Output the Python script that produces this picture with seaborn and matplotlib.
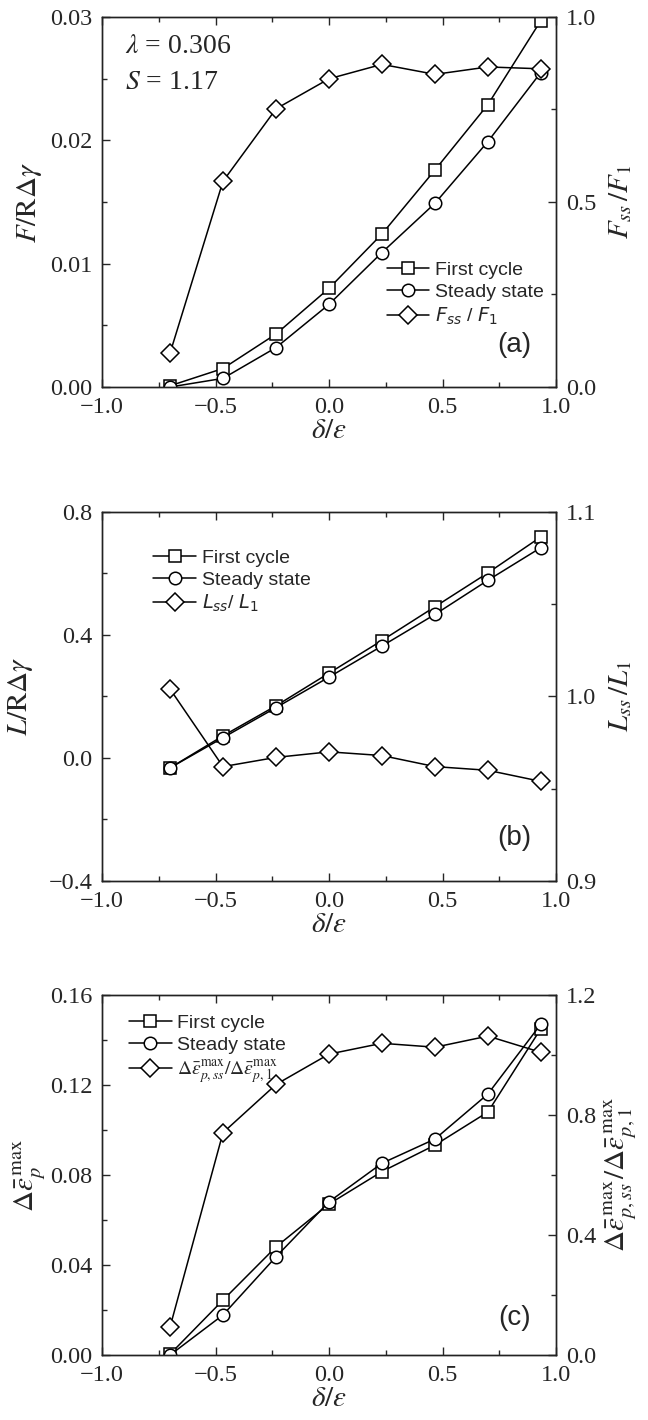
import numpy as np
import matplotlib
matplotlib.use("Agg")
import matplotlib.pyplot as plt
import seaborn as sns
from matplotlib.ticker import MultipleLocator, FuncFormatter

# ---------------- data ----------------
x_de = [-0.7, -0.467, -0.233, 0.0, 0.233, 0.467, 0.7, 0.933]

a_first = [0.0001, 0.0015, 0.0043, 0.0080, 0.0124, 0.0176, 0.0229, 0.0297]
a_steady = [0.0, 0.0007, 0.0032, 0.0067, 0.0109, 0.0149, 0.0199, 0.0255]
a_ratio = [0.092, 0.556, 0.752, 0.833, 0.872, 0.845, 0.865, 0.860]

b_first = [-0.032, 0.072, 0.170, 0.276, 0.382, 0.492, 0.602, 0.719]
b_steady = [-0.032, 0.066, 0.164, 0.263, 0.364, 0.467, 0.578, 0.684]
b_ratio = [1.004, 0.962, 0.967, 0.970, 0.968, 0.962, 0.960, 0.954]

c_first = [0.0004, 0.0244, 0.0481, 0.0671, 0.0815, 0.0933, 0.108, 0.145]
c_steady = [0.0, 0.0178, 0.0437, 0.0681, 0.0852, 0.096, 0.116, 0.147]
c_ratio = [0.094, 0.741, 0.902, 1.003, 1.039, 1.026, 1.063, 1.009]

# ---------------- style ----------------
sns.set_style("ticks")
plt.rcParams["font.family"] = ["Liberation Serif", "DejaVu Serif"]
plt.rcParams["mathtext.fontset"] = "stix"
plt.rcParams["xtick.direction"] = "in"
plt.rcParams["ytick.direction"] = "in"
plt.rcParams["axes.linewidth"] = 1.0
plt.rcParams["axes.edgecolor"] = "#222222"

fig = plt.figure(figsize=(6.48, 14.2), dpi=100)

W, H = 648.0, 1420.0
def rect(l, t, r, b):
    return [l / W, 1 - b / H, (r - l) / W, (b - t) / H]

axes_rects = [rect(102, 17, 556, 387), rect(102, 512, 556, 881), rect(102, 995, 556, 1355)]

tick_fs = 17.5
lab_fs = 21
leg_fs = 14
tag_fs = 20

def fmt(nd):
    return FuncFormatter(lambda v, p: f"{v:.{nd}f}".replace("-", "\u2212"))

def style_axes(ax, ax2):
    for a in (ax, ax2):
        a.tick_params(which="major", length=6, width=1, labelsize=tick_fs, pad=7)
        a.tick_params(which="minor", length=3.5, width=1)
    ax.tick_params(which="both", top=True, right=False)
    ax2.tick_params(which="both", right=True, left=False, top=False)
    ax.xaxis.set_major_locator(MultipleLocator(0.5))
    ax.xaxis.set_minor_locator(MultipleLocator(0.25))
    ax.xaxis.set_major_formatter(fmt(1))
    ax.set_xlim(-1.0, 1.0)
    ax.set_xlabel(r"$\delta/\varepsilon$", fontsize=lab_fs, labelpad=0)
    for s in ax.spines.values():
        s.set_visible(True)
    for s in ax2.spines.values():
        s.set_visible(True)

def plot_series(ax, y, marker, ms, label):
    sns.lineplot(x=x_de, y=y, ax=ax, marker=marker, color="black",
                 markerfacecolor="white", markeredgecolor="black",
                 markeredgewidth=1.1, markersize=ms, linewidth=1.1, label=label,
                 legend=False)

def make_legend(ax, ax2, loc, bbox):
    h1, l1 = ax.get_legend_handles_labels()
    h2, l2 = ax2.get_legend_handles_labels()
    leg = ax.legend(h1 + h2, l1 + l2, loc=loc, bbox_to_anchor=bbox, frameon=False,
                    prop={"family": "Liberation Sans", "size": leg_fs},
                    handlelength=2.2, handletextpad=0.3, labelspacing=0.22,
                    borderaxespad=0)
    for t in leg.get_texts():
        t.set_math_fontfamily("dejavusans")
    return leg

# ---------- panel (a) ----------
ax = fig.add_axes(axes_rects[0])
ax2 = ax.twinx()
plot_series(ax, a_first, "s", 8, "First cycle")
plot_series(ax, a_steady, "o", 9, "Steady state")
plot_series(ax2, a_ratio, "D", 9, r"$F_{ss}$ / $F_1$")
ax.set_ylim(0, 0.03)
ax.yaxis.set_major_locator(MultipleLocator(0.01))
ax.yaxis.set_minor_locator(MultipleLocator(0.005))
ax.yaxis.set_major_formatter(fmt(2))
ax2.set_ylim(0, 1.0)
ax2.yaxis.set_major_locator(MultipleLocator(0.5))
ax2.yaxis.set_minor_locator(MultipleLocator(0.25))
ax2.yaxis.set_major_formatter(fmt(1))
ax.set_ylabel(r"$F/\mathrm{R}\Delta\gamma$", fontsize=lab_fs, labelpad=4)
ax2.set_ylabel(r"$F_{ss}\,/F_1$", fontsize=lab_fs, rotation=90, labelpad=8)
style_axes(ax, ax2)
make_legend(ax, ax2, "upper left", (0.61, 0.36))
ax.text(0.05, 0.919, r"$\lambda$ = 0.306", transform=ax.transAxes, fontsize=20,
        va="center", ha="left")
ax.text(0.05, 0.824, r"$S$ = 1.17", transform=ax.transAxes, fontsize=20,
        va="center", ha="left")
ax.text(0.945, 0.114, "(a)", transform=ax.transAxes, fontsize=tag_fs,
        family="Liberation Sans", ha="right", va="center")

# ---------- panel (b) ----------
ax = fig.add_axes(axes_rects[1])
ax2 = ax.twinx()
plot_series(ax, b_first, "s", 8, "First cycle")
plot_series(ax, b_steady, "o", 9, "Steady state")
plot_series(ax2, b_ratio, "D", 9, r"$L_{ss}$/ $L_1$")
ax.set_ylim(-0.4, 0.8)
ax.yaxis.set_major_locator(MultipleLocator(0.4))
ax.yaxis.set_minor_locator(MultipleLocator(0.2))
ax.yaxis.set_major_formatter(fmt(1))
ax2.set_ylim(0.9, 1.1)
ax2.yaxis.set_major_locator(MultipleLocator(0.1))
ax2.yaxis.set_minor_locator(MultipleLocator(0.05))
ax2.yaxis.set_major_formatter(fmt(1))
ax.set_ylabel(r"$L/\mathrm{R}\Delta\gamma$", fontsize=lab_fs, labelpad=10)
ax2.set_ylabel(r"$L_{ss}\,/L_1$", fontsize=lab_fs, rotation=90, labelpad=8)
style_axes(ax, ax2)
make_legend(ax, ax2, "upper left", (0.096, 0.92))
ax.text(0.945, 0.117, "(b)", transform=ax.transAxes, fontsize=tag_fs,
        family="Liberation Sans", ha="right", va="center")

# ---------- panel (c) ----------
ax = fig.add_axes(axes_rects[2])
ax2 = ax.twinx()
plot_series(ax, c_first, "s", 8, "First cycle")
plot_series(ax, c_steady, "o", 9, "Steady state")
plot_series(ax2, c_ratio, "D", 9,
            r"$\Delta\bar{\varepsilon}_{p,ss}^{\max}/\Delta\bar{\varepsilon}_{p,1}^{\max}$")
ax.set_ylim(0, 0.16)
ax.yaxis.set_major_locator(MultipleLocator(0.04))
ax.yaxis.set_minor_locator(MultipleLocator(0.02))
ax.yaxis.set_major_formatter(fmt(2))
ax2.set_ylim(0, 1.2)
ax2.yaxis.set_major_locator(MultipleLocator(0.4))
ax2.yaxis.set_minor_locator(MultipleLocator(0.2))
ax2.yaxis.set_major_formatter(fmt(1))
ax.set_ylabel(r"$\Delta\bar{\varepsilon}_p^{\,\max}$", fontsize=lab_fs, labelpad=2)
ax2.set_ylabel(r"$\Delta\bar{\varepsilon}_{p,ss}^{\,\max}/\Delta\bar{\varepsilon}_{p,1}^{\,\max}$",
               fontsize=lab_fs, rotation=90, labelpad=4)
style_axes(ax, ax2)
leg = make_legend(ax, ax2, "upper left", (0.042, 0.967))
leg.get_texts()[2].set_math_fontfamily("stix")
ax.text(0.945, 0.103, "(c)", transform=ax.transAxes, fontsize=tag_fs,
        family="Liberation Sans", ha="right", va="center")

fig.savefig("out.png", dpi=100)
